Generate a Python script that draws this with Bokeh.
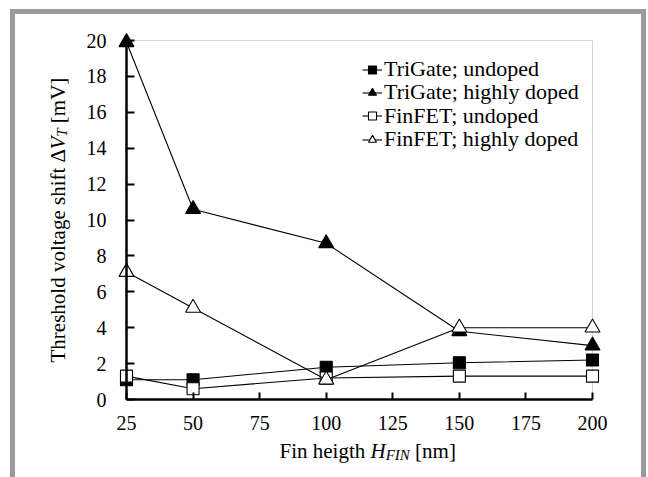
import math

from bokeh.plotting import figure
from bokeh.models import (Range1d, FixedTicker, Legend, LegendItem, Label,
                          BoxAnnotation, InlineStyleSheet)
from bokeh.embed import file_html
from bokeh.resources import INLINE

# ---- data -------------------------------------------------------------
fin_height = [25, 50, 100, 150, 200]                 # H_FIN [nm]
trigate_undoped = [1.1, 1.1, 1.8, 2.05, 2.2]         # delta V_T [mV]
trigate_doped = [19.9, 10.6, 8.7, 3.8, 3.0]
finfet_undoped = [1.3, 0.6, 1.2, 1.3, 1.3]
finfet_doped = [7.1, 5.1, 1.1, 4.0, 4.0]

x_ticks = [25, 50, 75, 100, 125, 150, 175, 200]
y_ticks = [0, 2, 4, 6, 8, 10, 12, 14, 16, 18, 20]

series_names = ["TriGate; undoped", "TriGate; highly doped",
                "FinFET; undoped", "FinFET; highly doped"]

# ---- layout constants (pixels) -----------------------------------------
# The plotting frame covers the whole canvas; the axes are pinned with
# fixed_location so nothing (markers at the box edges, labels) is clipped.
W, H = 648, 477
AX_L, AX_R, AX_T, AX_B = 126, 592, 40, 399     # where the axes box sits
X0, X1 = 25, 200
Y0, Y1 = 0, 20
XS = (AX_R - AX_L) / (X1 - X0)                 # px per nm
YS = (AX_B - AX_T) / (Y1 - Y0)                 # px per mV

SERIF = "Liberation Serif"


def dx(px):
    """canvas x (px) -> data x"""
    return X0 + (px - AX_L) / XS


def dy(py):
    """canvas y (px, from top) -> data y"""
    return Y0 + (AX_B - py) / YS


p = figure(width=W, height=H, output_backend="svg", toolbar_location=None,
           x_range=Range1d(dx(0), dx(W)), y_range=Range1d(dy(H), dy(0)),
           min_border=0, min_border_left=0, min_border_right=0,
           min_border_top=0, min_border_bottom=0)
p.background_fill_color = "white"
p.border_fill_color = "white"
p.grid.visible = False
p.outline_line_color = None

# thin grey box closing the top and right sides of the axes area
p.add_layout(BoxAnnotation(left=X0, right=X1, bottom=Y0, top=Y1,
                           fill_alpha=0, line_color="#7a7a7a",
                           line_width=1, level="underlay"))

# ---- axes -----------------------------------------------------------------
for ax in (p.xaxis[0], p.yaxis[0]):
    ax.axis_line_color = "black"
    ax.axis_line_width = 2.5
    ax.major_tick_line_color = "black"
    ax.major_tick_line_width = 2
    ax.major_tick_out = 0
    ax.minor_tick_line_color = None
    ax.major_label_text_font = SERIF
    ax.major_label_text_font_size = "20px"
    ax.major_label_text_color = "black"

p.xaxis[0].ticker = FixedTicker(ticks=x_ticks)
p.xaxis[0].bounds = (X0, X1)
p.xaxis[0].fixed_location = Y0
p.xaxis[0].major_tick_in = 7
p.xaxis[0].major_label_standoff = 16

p.yaxis[0].ticker = FixedTicker(ticks=y_ticks)
p.yaxis[0].bounds = (Y0, Y1)
p.yaxis[0].fixed_location = X0
p.yaxis[0].major_tick_in = 8
p.yaxis[0].major_label_standoff = 20

# ---- series ---------------------------------------------------------------
styles = [
    (trigate_undoped, "square", 12, "black"),
    (trigate_doped, "triangle", 15, "black"),
    (finfet_undoped, "square", 12, "white"),
    (finfet_doped, "triangle", 15, "white"),
]

# one single-entry legend per series so the rows sit at an exact pitch
LEG_X = 362            # left edge of the legend glyphs
LEG_ROW0 = 69.5        # centre of the first row
LEG_PITCH = 23.3
LEG_HALF = 12.6        # half the height of one legend row

for i, (name, (vals, marker, size, fill)) in enumerate(zip(series_names,
                                                          styles)):
    ln = p.line(fin_height, vals, line_color="black", line_width=1.1)
    sc = p.scatter(fin_height, vals, marker=marker, size=size,
                   fill_color=fill, line_color="black", line_width=1.1)
    row_c = LEG_ROW0 + i * LEG_PITCH
    p.add_layout(Legend(items=[LegendItem(label=name, renderers=[ln, sc])],
                        location=(LEG_X, H - (row_c + LEG_HALF)),
                        glyph_width=20, glyph_height=23, label_height=23,
                        spacing=0, padding=0, margin=0, label_standoff=2,
                        border_line_color=None, background_fill_alpha=0,
                        label_text_font=SERIF, label_text_font_size="22px",
                        label_text_color="black"))

# ---- axis titles (mixed upright / italic / subscript) ---------------------


def add_text(text, px, py, size, italic=False, angle=0.0, align="left"):
    p.add_layout(Label(x=dx(px), y=dy(py), text=text, angle=angle,
                       text_align=align, text_baseline="alphabetic",
                       text_font=SERIF, text_font_size=f"{size}px",
                       text_font_style="italic" if italic else "normal",
                       text_color="black"))


# x title: "Fin heigth H_FIN [nm]"
fx = 21
sub = 15
base_y = 450
a = 370.0                                   # start of the italic H
add_text("Fin heigth", a - 0.25 * fx, base_y, fx, align="right")
add_text("H", a, base_y, fx, italic=True)
a_sub = a + 0.722 * fx
add_text("FIN", a_sub, base_y + 4, sub, italic=True)
a_nm = a_sub + 1.611 * sub + 0.25 * fx
add_text("[nm]", a_nm, base_y, fx)

# y title: "Threshold voltage shift ΔV_T [mV]" (reads bottom to top)
fy = 21
base_x = 57
rot = math.pi / 2
b = 362                                      # bottom end of the title
add_text("Threshold voltage shift Δ", base_x, b, fy, angle=rot)
b_v = b - 10.139 * fy
add_text("V", base_x, b_v, fy, italic=True, angle=rot)
b_t = b_v - 0.611 * fy
add_text("T", base_x + 4, b_t, sub, italic=True, angle=rot)
b_mv = b_t - 0.556 * sub - 0.25 * fy
add_text("[mV]", base_x, b_mv, fy, angle=rot)

# ---- grey page frame (left, top, right) -----------------------------------
page_frame = InlineStyleSheet(css="""
:host { position: relative; }
:host::after {
  content: "";
  position: absolute;
  left: 10px; top: 9px; width: 626px; height: 470px;
  border: 5px solid #9a9a9a; border-bottom: none;
  pointer-events: none;
}
""")
p.stylesheets = [page_frame]

open("out.html", "w").write(file_html(p, INLINE))
